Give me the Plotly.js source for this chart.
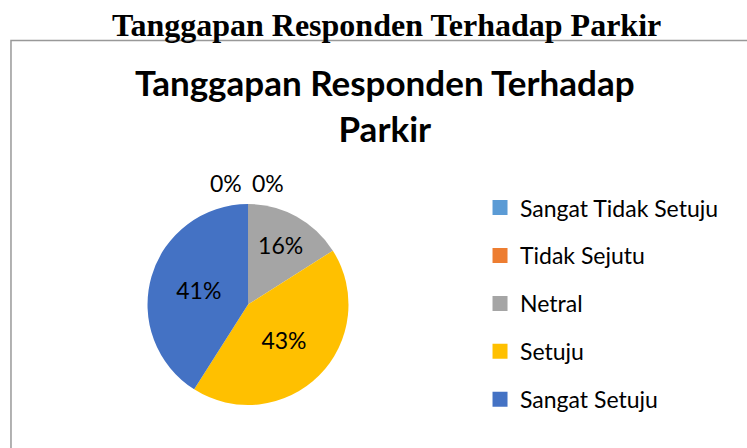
<!DOCTYPE html>
<html>
<head>
<meta charset="utf-8">
<script src="https://cdn.plot.ly/plotly-3.0.1.min.js"></script>
<style>html,body{margin:0;padding:0;background:#fff;}#chart{width:747px;height:448px;}</style>
</head>
<body>
<div id="chart"></div>
<script>
const categories = ["Sangat Tidak Setuju", "Tidak Sejutu", "Netral", "Setuju", "Sangat Setuju"];
const values = [0, 0, 16, 43, 41];
const colors = ["#5B9BD5", "#ED7D31", "#A5A5A5", "#FFC000", "#4472C4"];
const outerTitle = "Tanggapan Responden Terhadap Parkir";
const chartTitle = "Tanggapan Responden Terhadap<br>Parkir";

const total = values.reduce((a, b) => a + b, 0);
const pctText = values.map(v => Math.round(v / total * 100) + "%");

const traces = [{
  type: "pie",
  labels: categories,
  values: values,
  text: pctText,
  textinfo: "text",
  textposition: "inside",
  insidetextorientation: "horizontal",
  sort: false,
  direction: "clockwise",
  rotation: 0,
  marker: {colors: colors, line: {width: 0}},
  textfont: {family: "Lato", size: 23, color: "#000"},
  showlegend: false,
  hoverinfo: "label+percent",
  domain: {x: [0.1968, 0.4672], y: [0.096, 0.5446]}
}];
categories.forEach((c, i) => {
  traces.push({
    type: "scatter", mode: "markers", x: [null], y: [null],
    name: c, legendgroup: "g" + i,
    marker: {symbol: "square", size: 15, color: colors[i]},
    xaxis: "x", yaxis: "y"
  });
});

// zero-value slice labels (Plotly omits text for empty slices)
const zeroIdx = values.map((v, i) => v === 0 ? i : -1).filter(i => i >= 0);
const zeroX = [0.3025, 0.3588];
const annotations = zeroIdx.map((idx, k) => ({
  xref: "paper", yref: "paper", x: zeroX[k], xanchor: "center", y: 0.591, yanchor: "middle",
  text: pctText[idx],
  showarrow: false, font: {family: "Lato", size: 23, color: "#000"}
}));
annotations.push({
  xref: "paper", yref: "paper", x: 0.517, y: 0.944, yanchor: "middle",
  text: outerTitle, showarrow: false,
  font: {family: "Liberation Serif", size: 32, color: "#000", weight: "bold"}
});
annotations.push({
  xref: "paper", yref: "paper", x: 0.516, y: 0.766, yanchor: "middle",
  text: "<b>" + chartTitle + "</b>", showarrow: false,
  font: {family: "Lato", size: 35, color: "#000"}
});

const layout = {
  width: 747, height: 448,
  margin: {l: 0, r: 0, t: 0, b: 0},
  paper_bgcolor: "#fff", plot_bgcolor: "rgba(0,0,0,0)",
  xaxis: {visible: false, domain: [0.9, 1]},
  yaxis: {visible: false, domain: [0.9, 1]},
  showlegend: true,
  legend: {
    x: 0.6426, y: 0.5845, xanchor: "left", yanchor: "top",
    font: {family: "Lato", size: 23, color: "#000"},
    tracegroupgap: 15, traceorder: "grouped",
    itemclick: false, itemdoubleclick: false,
    bgcolor: "rgba(0,0,0,0)"
  },
  shapes: [{
    type: "rect", xref: "paper", yref: "paper",
    x0: 0.0147, x1: 1.01, y0: -0.01, y1: 0.9096,
    line: {color: "#999999", width: 1.5}, fillcolor: "rgba(0,0,0,0)", layer: "below"
  }],
  annotations: annotations
};

Plotly.newPlot("chart", traces, layout, {displayModeBar: false, staticPlot: true});
</script>
</body>
</html>
